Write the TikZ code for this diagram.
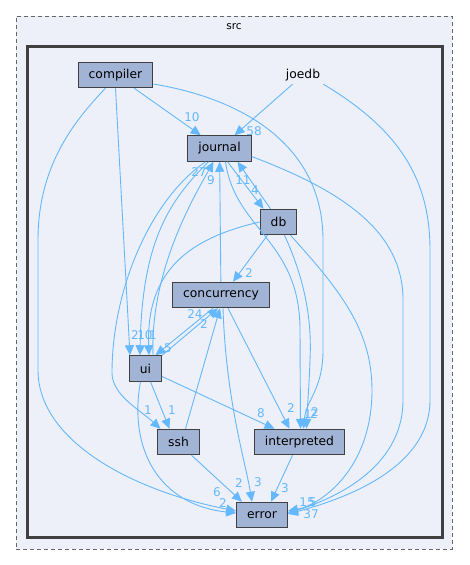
\documentclass[tikz,border=0pt]{standalone}
\usepackage{fontspec}
\setmainfont{DejaVu Sans}
\usepackage{xcolor}
\usetikzlibrary{arrows.meta,positioning,calc}

\definecolor{depblue}{HTML}{63B8FF}
\definecolor{dirfill}{HTML}{A2B4D6}
\definecolor{clfill}{HTML}{EDF0F8}
\definecolor{clline}{HTML}{404040}

\begin{document}
\begin{tikzpicture}[
  x=1pt, y=-1pt,
  dir/.style  ={draw=clline,fill=dirfill,line width=1pt,inner xsep=10.5pt,
                minimum height=25.5pt,font=\fontsize{12.3}{14}\selectfont},
  dep/.style  ={draw=depblue,line width=0.9pt,-{Triangle[length=10pt,width=9pt]}},
  lab/.style  ={text=depblue,font=\fontsize{12}{14}\selectfont,inner sep=0pt},
  >={Triangle[length=10pt,width=9pt]}]

\useasboundingbox (0,0) rectangle (469,565);

% ---------- Clusters ----------
\node[draw=clline!80,fill=clfill,dashed,dash pattern=on 4pt off 3pt,line width=0.9pt,
      minimum width=436pt,minimum height=533pt,inner sep=0pt] (src) at (234,282.5) {};
\node[font=\fontsize{10.5}{12}\selectfont,text=black,inner sep=0pt] (srclbl) at (234,27) {src};
\node[draw=clline,fill=clfill,line width=2.2pt,
      minimum width=415pt,minimum height=491pt,inner sep=0pt] (inner) at (235,292) {};
\node[font=\fontsize{12.3}{14}\selectfont,inner sep=3pt] (joedb) at (303,75) {joedb};

% ---------- Directories ----------
\node[dir] (compiler)    at (115.5,75)  {compiler};
\node[dir] (journal)     at (219.5,148.5) {journal};
\node[dir] (db)          at (278.5,222) {db};
\node[dir] (concurrency) at (221,295)   {concurrency};
\node[dir] (ui)          at (145.5,368.5) {ui};
\node[dir] (ssh)         at (178.5,442) {ssh};
\node[dir] (interpreted) at (299.5,442) {interpreted};
\node[dir] (error)       at (262,515)   {error};

% ---------- Row 1 : into journal ----------
\draw[dep] (compiler) -- (journal);
\draw[dep] (joedb) -- (journal);
\draw[dep] (concurrency) -- (journal);
\draw[dep] ([xshift=-8pt]db.north) -- ([xshift=18pt]journal.south);
\draw[dep] ([xshift=8pt]journal.south) -- ([xshift=-15pt]db.north);
\draw[dep] ([xshift=7.5pt]ui.north) .. controls (150,270) and (195,195) .. ([xshift=-6pt]journal.south);

% ---------- Row 2 : into ui, concurrency ----------
\draw[dep] (compiler.south) -- ([xshift=-15.5pt]ui.north);
\draw[dep] ([xshift=-11pt]journal.south) .. controls (170,200) and (142,240) .. ([xshift=-5.5pt]ui.north);
\draw[dep] (db.west) .. controls (190,238) and (146,270) .. ([xshift=3.5pt]ui.north);
\draw[dep] ([xshift=-8pt]concurrency.south) -- ([xshift=10pt]ui.north);
\draw[dep] (ui.north east) -- ([xshift=-3pt]concurrency.south);
\draw[dep] ([xshift=7pt]ssh.north) -- ([xshift=-1pt]concurrency.south);
\draw[dep] ([xshift=-11pt]db.south) -- ([xshift=12pt]concurrency.north);

% ---------- Row 3 : into ssh, interpreted ----------
\draw[dep] ([xshift=-14pt]journal.south) .. controls (150,200) and (112,290) .. (112,373)
           .. controls (112,395) and (140,410) .. ([xshift=-18pt]ssh.north);
\draw[dep] ([xshift=5pt]ui.south) -- ([xshift=-9pt]ssh.north);
\draw[dep] ([yshift=-8pt]ui.east) -- ([xshift=-25pt]interpreted.north);
\draw[dep] ([xshift=7pt]concurrency.south) -- ([xshift=-10pt]interpreted.north);
\draw[dep] ([yshift=-9pt]compiler.east) .. controls (250,100) and (323,150) .. (323,240)
           -- (323,350) .. controls (323,390) and (306,400) .. ([xshift=4pt]interpreted.north);
\draw[dep] ([xshift=6pt]journal.south) .. controls (235,230) and (300,240) .. (300,330)
           -- ([xshift=1pt]interpreted.north);
\draw[dep] ([xshift=6pt]db.south) .. controls (305,280) and (312,320) .. (310,360)
           .. controls (309,390) and (307,410) .. ([xshift=7pt]interpreted.north);

% ---------- Row 4 : into error ----------
\draw[dep] ([xshift=13pt]ssh.south) -- ([xshift=-20pt]error.north);
\draw[dep] ([xshift=-7pt]interpreted.south) -- ([xshift=9pt]error.north);
\draw[dep] ([xshift=2pt]concurrency.south) .. controls (226,400) and (245,460) .. ([xshift=-10pt]error.north);
\draw[dep] ([xshift=-10pt]compiler.south) .. controls (70,125) and (38,170) .. (38,240)
           -- (38,370) .. controls (38,440) and (130,490) .. ([yshift=4pt]error.west);
\draw[dep] ([xshift=-5pt]ui.south) .. controls (128,450) and (160,505) .. ([yshift=2pt]error.west);
\draw[dep] ([xshift=12pt]db.south) .. controls (340,290) and (372,330) .. (372,390)
           .. controls (372,470) and (320,505) .. ([yshift=4pt]error.east);
\draw[dep] ([yshift=-8pt]journal.east) .. controls (340,190) and (403,230) .. (403,300)
           -- (403,400) .. controls (403,470) and (330,500) .. ([yshift=2pt]error.east);
\draw[dep] (joedb.south east) .. controls (400,130) and (430,180) .. (430,250)
           -- (430,400) .. controls (430,470) and (340,500) .. ([yshift=1pt]error.east);

% ---------- Edge counts ----------
\node[lab] (n-cj) at (192,117) {10};
\node[lab] (n-oj) at (254,131) {58};
\node[lab] (n-uj) at (199,172) {27};
\node[lab] (n-kj) at (211,180) {9};
\node[lab] (n-dj) at (243,180) {11};
\node[lab] (n-jd) at (255,190) {4};
\node[lab] (n-dk) at (249,273) {2};
\node[lab] (n-cu) at (135,335) {2};
\node[lab] (n-ju) at (145,335) {10};
\node[lab] (n-du) at (153,335) {1};
\node[lab] (n-uk) at (195,314) {24};
\node[lab] (n-sk) at (204,324) {2};
\node[lab] (n-ku) at (168,348) {5};
\node[lab] (n-js) at (148,410) {1};
\node[lab] (n-us) at (172,410) {1};
\node[lab] (n-ui) at (261,413) {8};
\node[lab] (n-ki) at (291,408) {2};
\node[lab] (n-ji) at (308,414) {1};
\node[lab] (n-ci) at (314,414) {2};
\node[lab] (n-di) at (315,412) {2};
\node[lab] (n-se) at (239,483) {2};
\node[lab] (n-ke) at (258,482) {3};
\node[lab] (n-ie) at (285,488) {3};
\node[lab] (n-ce) at (217,492) {6};
\node[lab] (n-ue) at (223,503) {2};
\node[lab] (n-je) at (307,502) {15};
\node[lab] (n-de) at (313,502) {5};
\node[lab] (n-oe) at (311,514) {37};

\end{tikzpicture}
\end{document}
